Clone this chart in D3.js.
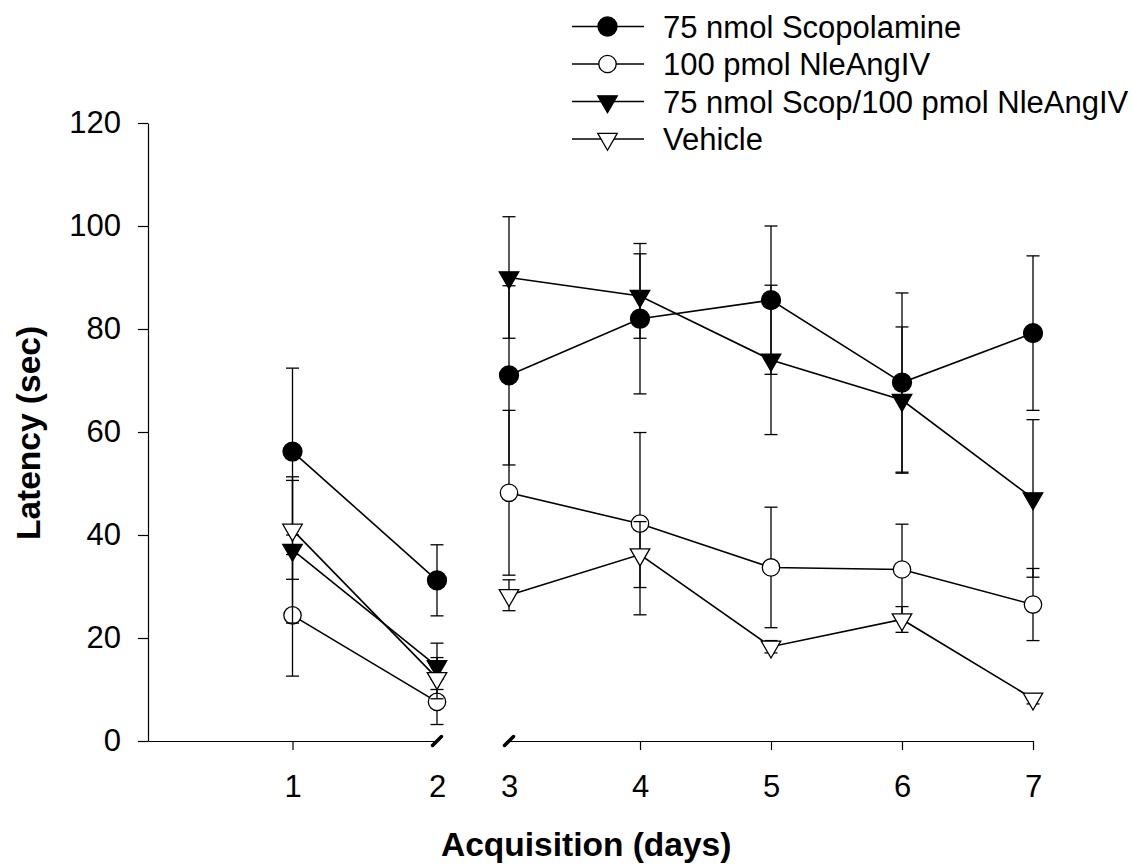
<!DOCTYPE html>
<html>
<head>
<meta charset="utf-8">
<script src="https://cdn.jsdelivr.net/npm/d3@7"></script>
<style>
    body { margin: 0; background: #fff; }
    svg { display: block; }
</style>
</head>
<body>
<svg id="chart" width="1133" height="865"></svg>
<script>
const days = [1, 2, 3, 4, 5, 6, 7];
const seriesNames = ['75 nmol Scopolamine', '100 pmol NleAngIV', '75 nmol Scop/100 pmol NleAngIV', 'Vehicle'];

// latency means and SEM (sec)
const scopMean = [56.2, 31.2, 71.0, 82.0, 85.6, 69.6, 79.2];
const scopSE = [16.2, 6.9, 17.4, 14.6, 14.4, 17.4, 15.0];
const angMean = [24.4, 7.6, 48.2, 42.2, 33.7, 33.3, 26.5];
const angSE = [11.8, 4.4, 16.0, 17.7, 11.7, 8.8, 7.0];
const comboMean = [37.1, 14.5, 90.0, 86.4, 74.0, 66.2, 47.1];
const comboSE = [14.2, 4.5, 11.8, 8.2, 14.5, 14.2, 15.3];
const vehMean = [41.0, 12.2, 28.3, 36.2, 18.3, 23.6, 8.2];
const vehSE = [9.6, 4.0, 3.0, 6.4, 1.2, 2.5, 1.0];

const yTicks = [0, 20, 40, 60, 80, 100, 120];

const font = '"Liberation Sans", Arial, sans-serif';
const svg = d3.select('#chart');

// broken x axis: days 1-2 and days 3-7 have their own scales
const xLeft = d3.scaleLinear().domain([0, 2]).range([148, 437]);
const xRight = d3.scaleLinear().domain([3, 7]).range([509, 1033]);
const y = d3.scaleLinear().domain([0, 120]).range([741, 123]);

function xPos(day){
    return day <= 2 ? xLeft(day) : xRight(day);
}

const series = [
    {name: seriesNames[0], mean: scopMean, se: scopSE, shape: 'circle', fill: '#000'},
    {name: seriesNames[1], mean: angMean, se: angSE, shape: 'circle', fill: '#fff'},
    {name: seriesNames[2], mean: comboMean, se: comboSE, shape: 'triangle', fill: '#000'},
    {name: seriesNames[3], mean: vehMean, se: vehSE, shape: 'triangle', fill: '#fff'}
];

const tri = d3.symbol().type(d3.symbolTriangle).size(165);

function drawMarker(g, shape, fill, cx, cy){
    if(shape === 'circle'){
        g.append('circle')
            .attr('cx', cx)
            .attr('cy', cy)
            .attr('r', fill === '#000' ? 9.5 : 8.7)
            .style('fill', fill)
            .style('stroke', '#000')
            .style('stroke-width', 1.3);
    }else{
        g.append('path')
            .attr('d', tri())
            .attr('transform', `translate(${cx},${cy}) rotate(180)`)
            .style('fill', fill)
            .style('stroke', '#000')
            .style('stroke-width', 1.3);
    }
}

// axes
const axisLeftPart = svg.append('g')
    .attr('transform', `translate(0,${y(0)})`)
    .call(d3.axisBottom(xLeft).tickValues([1, 2]).tickFormat(d3.format('d'))
        .tickSize(9).tickSizeOuter(0).tickPadding(25));
axisLeftPart.selectAll('.tick').filter(d => d === 2).select('line').remove();

const axisRightPart = svg.append('g')
    .attr('transform', `translate(0,${y(0)})`)
    .call(d3.axisBottom(xRight).tickValues([3, 4, 5, 6, 7]).tickFormat(d3.format('d'))
        .tickSize(9).tickSizeOuter(0).tickPadding(25));
axisRightPart.selectAll('.tick').filter(d => d === 3).select('line').remove();

const yAxis = svg.append('g')
    .attr('transform', `translate(${xLeft(0)},0)`)
    .call(d3.axisLeft(y).tickValues(yTicks).tickSize(10).tickSizeOuter(0).tickPadding(17));

svg.selectAll('.tick text')
    .attr('font-family', font)
    .attr('font-size', 31)
    .style('fill', '#000');
svg.selectAll('.domain, .tick line')
    .style('stroke', '#000')
    .style('stroke-width', 1.2);

// break marks
[xLeft(2), xRight(3)].forEach(function(bx){
    svg.append('line')
        .attr('x1', bx - 4.5)
        .attr('y1', y(0) + 4.5)
        .attr('x2', bx + 4.5)
        .attr('y2', y(0) - 4.5)
        .style('stroke', '#000')
        .style('stroke-width', 3.5)
        .style('stroke-linecap', 'round');
});

// axis titles
svg.append('text')
    .text('Acquisition (days)')
    .attr('x', 441)
    .attr('y', 856)
    .attr('font-family', font)
    .attr('font-size', 33.5)
    .attr('font-weight', 'bold');

svg.append('text')
    .text('Latency (sec)')
    .attr('transform', `translate(40,${433}) rotate(-90)`)
    .attr('text-anchor', 'middle')
    .attr('font-family', font)
    .attr('font-size', 33.5)
    .attr('font-weight', 'bold');

// data
const line = d3.line()
    .x(d => xPos(d.day))
    .y(d => y(d.mean));

series.forEach(function(s){
    const g = svg.append('g');
    const points = days.map((d, i) => ({day: d, mean: s.mean[i], se: s.se[i]}));

    points.forEach(function(p){
        const px = xPos(p.day);
        g.append('line')
            .attr('x1', px).attr('x2', px)
            .attr('y1', y(p.mean - p.se)).attr('y2', y(p.mean + p.se))
            .style('stroke', '#000').style('stroke-width', 1.3);
        [p.mean - p.se, p.mean + p.se].forEach(function(v){
            g.append('line')
                .attr('x1', px - 6.5).attr('x2', px + 6.5)
                .attr('y1', y(v)).attr('y2', y(v))
                .style('stroke', '#000').style('stroke-width', 1.3);
        });
    });

    [points.filter(p => p.day <= 2), points.filter(p => p.day >= 3)].forEach(function(seg){
        g.append('path')
            .attr('d', line(seg))
            .style('fill', 'none')
            .style('stroke', '#000')
            .style('stroke-width', 1.6);
    });

    points.forEach(function(p){
        drawMarker(g, s.shape, s.fill, xPos(p.day), y(p.mean));
    });
});

// legend
const legendY = [26.5, 64, 101.5, 139];
series.forEach(function(s, i){
    const g = svg.append('g');
    g.append('line')
        .attr('x1', 572).attr('x2', 644)
        .attr('y1', legendY[i]).attr('y2', legendY[i])
        .style('stroke', '#000').style('stroke-width', 1.6);
    drawMarker(g, s.shape, s.fill, 607.5, legendY[i]);
    g.append('text')
        .text(s.name)
        .attr('x', 663)
        .attr('y', legendY[i])
        .attr('dy', '0.36em')
        .attr('font-family', font)
        .attr('font-size', 31);
});
</script>
</body>
</html>
